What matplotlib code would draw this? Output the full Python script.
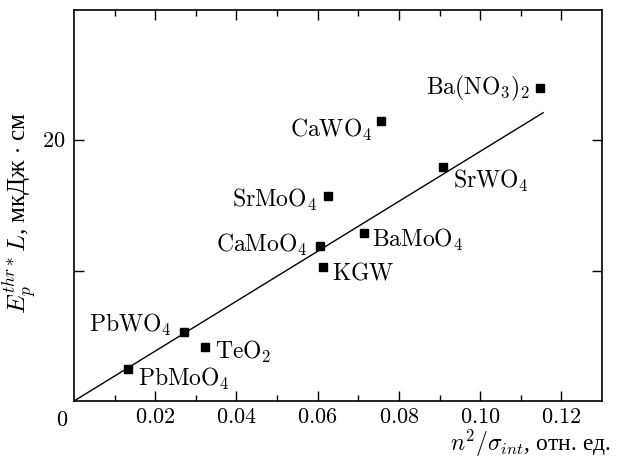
import matplotlib
matplotlib.use("Agg")
import matplotlib.pyplot as plt

# crystal data: n^2/sigma_int vs threshold energy * length
names = [r"$\mathrm{PbMoO}_4$", r"$\mathrm{PbWO}_4$", r"$\mathrm{TeO}_2$",
         r"$\mathrm{CaMoO}_4$", r"$\mathrm{KGW}$", r"$\mathrm{SrMoO}_4$",
         r"$\mathrm{BaMoO}_4$", r"$\mathrm{CaWO}_4$", r"$\mathrm{SrWO}_4$",
         r"$\mathrm{Ba(NO}_3\mathrm{)}_2$"]
x_vals = [0.0132, 0.0271, 0.0323, 0.0605, 0.0614, 0.0625, 0.0714, 0.0756, 0.0908, 0.1147]
y_vals = [2.45, 5.3, 4.15, 11.9, 10.3, 15.7, 12.9, 21.45, 17.97, 23.98]

# fitted line through origin
fit_slope = 191.5
fit_x = [0.0, 0.1155]

# label placement (offset in pixels, alignment)
label_dx = [10, -12, 10, -12, 9, -11, 8, -9, 10, -10]
label_dy = [-17, 0, -12, -6, -13, -11, -14, -16, -21, -6]

xtick_vals = [0.02, 0.04, 0.06, 0.08, 0.10, 0.12]
xtick_labels = ["0.02", "0.04", "0.06", "0.08", "0.10", "0.12"]
xminor_vals = [0.01, 0.03, 0.05, 0.07, 0.09, 0.11]

plt.rcParams['font.family'] = ['Liberation Serif']
plt.rcParams['mathtext.fontset'] = 'cm'
plt.rcParams['font.size'] = 17

fig = plt.figure(figsize=(6.22, 4.58), dpi=100)
ax = fig.add_axes([74 / 622, 1 - 401 / 458, (602 - 74) / 622, 391 / 458])

ax.plot(fit_x, [fit_slope * v for v in fit_x], color='black', lw=1.0)
ax.plot(x_vals, y_vals, 's', color='black', ms=5.5, ls='none')

for name, x, y, dx, dy in zip(names, x_vals, y_vals, label_dx, label_dy):
    ax.annotate(name, (x, y), xytext=(dx, dy), textcoords='offset pixels',
                ha='left' if dx > 0 else 'right', va='baseline', fontsize=17)

ax.set_xlim(0, 0.13)
ax.set_ylim(0, 30)

ax.set_xticks(xtick_vals)
ax.set_xticklabels(["$%s$" % t for t in xtick_labels], fontsize=16)
ax.set_xticks(xminor_vals, minor=True)
ax.set_yticks([10, 20])
ax.set_yticklabels(["", "$20$"], fontsize=16)

ax.tick_params(which='both', direction='in', top=True, right=True)
ax.tick_params(which='major', length=7, width=1.0, pad=6)
ax.tick_params(which='minor', length=4, width=1.0)
for s in ax.spines.values():
    s.set_linewidth(1.2)

fig.text(62 / 622, 1 - 426 / 458, "$0$", ha='center', va='baseline', fontsize=16)

fig.text(611 / 622, 1 - 451 / 458, r"$n^2/\sigma_{int}$, отн. ед.",
         ha='right', va='baseline', fontsize=17)
ax.set_ylabel(r"$E_p^{thr*}L$, мкДж $\cdot$ см", fontsize=18)
ax.yaxis.set_label_coords(-0.066, 0.48)

fig.savefig("out.png", dpi=100)
